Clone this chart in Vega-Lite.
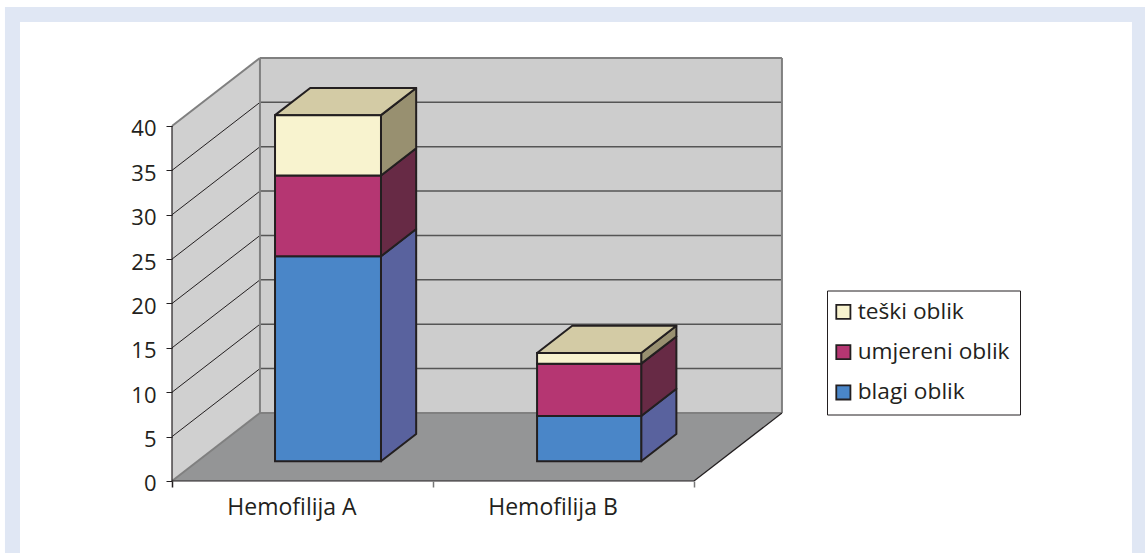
{"$schema":"https://vega.github.io/schema/vega-lite/v6.json","width":1145,"height":553,"padding":0,"autosize":{"type":"none"},"background":"#ffffff","config":{"view":{"stroke":null},"font":"Open Sans","text":{"font":"Open Sans"}},"datasets":{"segments":[{"category":"Hemofilija A","series":"blagi oblik","start":0,"end":23.1},{"category":"Hemofilija A","series":"umjereni oblik","start":23.1,"end":32.2},{"category":"Hemofilija A","series":"teški oblik","start":32.2,"end":39},{"category":"Hemofilija B","series":"blagi oblik","start":0,"end":5.1},{"category":"Hemofilija B","series":"umjereni oblik","start":5.1,"end":11},{"category":"Hemofilija B","series":"teški oblik","start":11,"end":12.2}],"frame":[{"part":"okvir","x0":-0.64,"x1":3.728,"y0":-8.113,"y1":53.41},{"part":"unutra","x0":-0.5824,"x1":3.678,"y0":-8.113,"y1":51.72}],"surfaces":[{"surface":"left","corner":0,"slot":0,"value":0,"depth":0},{"surface":"left","corner":1,"slot":0,"value":40,"depth":0},{"surface":"left","corner":2,"slot":0,"value":40,"depth":1},{"surface":"left","corner":3,"slot":0,"value":0,"depth":1},{"surface":"back","corner":0,"slot":0,"value":0,"depth":1},{"surface":"back","corner":1,"slot":0,"value":40,"depth":1},{"surface":"back","corner":2,"slot":2,"value":40,"depth":1},{"surface":"back","corner":3,"slot":2,"value":0,"depth":1},{"surface":"floor","corner":0,"slot":0,"value":0,"depth":0},{"surface":"floor","corner":1,"slot":2,"value":0,"depth":0},{"surface":"floor","corner":2,"slot":2,"value":0,"depth":1},{"surface":"floor","corner":3,"slot":0,"value":0,"depth":1}],"grid":[{"value":5},{"value":10},{"value":15},{"value":20},{"value":25},{"value":30},{"value":35}],"edges":[{"edge":"light","slot":0,"value":0,"depth":0,"slot2":0,"value2":0,"depth2":1},{"edge":"light","slot":0,"value":40,"depth":0,"slot2":0,"value2":40,"depth2":1},{"edge":"light","slot":0,"value":0,"depth":1,"slot2":0,"value2":40,"depth2":1},{"edge":"light","slot":0,"value":40,"depth":1,"slot2":2,"value2":40,"depth2":1},{"edge":"light","slot":2,"value":40,"depth":1,"slot2":2,"value2":0,"depth2":1},{"edge":"light","slot":0,"value":0,"depth":1,"slot2":2,"value2":0,"depth2":1},{"edge":"dark","slot":0,"value":0,"depth":0,"slot2":0,"value2":40,"depth2":0},{"edge":"dark","slot":0,"value":0,"depth":0,"slot2":2,"value2":0,"depth2":0},{"edge":"dark","slot":2,"value":0,"depth":0,"slot2":2,"value2":0,"depth2":1}]},"layer":[{"data":{"name":"frame"},"mark":{"type":"rect"},"encoding":{"x":{"field":"x0","type":"quantitative","scale":{"domain":[-0.659,3.728],"nice":false,"zero":false},"axis":{"orient":"bottom","offset":-72,"zindex":1,"title":null,"grid":false,"domain":false,"values":[0,0.5,1,1.5,2],"tickSize":6,"tickWidth":1.5,"tickColor":{"expr":"datum.value==0?'#231f20':'#777777'"},"tickOpacity":{"expr":"datum.value%1==0?1:0"},"labelExpr":"datum.value==0.5?'Hemofilija A':datum.value==1.5?'Hemofilija B':''","labelFont":"Open Sans","labelFontSize":23,"labelColor":"#231f20","labelOffset":-11,"labelPadding":9,"labelOverlap":false,"labelFlush":false}},"x2":{"field":"x1"},"y":{"field":"y0","type":"quantitative","scale":{"domain":[-8.113,54.197],"nice":false,"zero":false},"axis":{"orient":"left","offset":-172,"zindex":1,"title":null,"grid":false,"domain":false,"values":[0,5,10,15,20,25,30,35,40],"tickSize":6,"tickWidth":1,"tickColor":"#231f20","labelFont":"Open Sans","labelFontSize":22,"labelColor":"#231f20","labelPadding":10,"labelOffset":3}},"y2":{"field":"y1"},"color":{"field":"part","type":"nominal","scale":{"domain":["okvir","unutra"],"range":["#e0e7f4","#ffffff"]},"legend":null}}},{"data":{"name":"surfaces"},"transform":[{"calculate":"datum.slot+datum.depth*0.337","as":"sx"},{"calculate":"datum.value+datum.depth*7.662","as":"sy"}],"mark":{"type":"line","interpolate":"linear-closed","strokeWidth":0},"encoding":{"x":{"field":"sx","type":"quantitative"},"y":{"field":"sy","type":"quantitative"},"order":{"field":"corner","type":"ordinal"},"detail":{"field":"surface"},"fill":{"field":"surface","type":"nominal","scale":{"domain":["left","back","floor"],"range":["#d0d0d0","#cdcdcd","#949596"]},"legend":null}}},{"data":{"name":"grid"},"transform":[{"calculate":"0.337","as":"dx"},{"calculate":"datum.value+7.662","as":"yb"},{"calculate":"0","as":"x0"}],"mark":{"type":"rule","color":"#231f20","strokeWidth":1},"encoding":{"x":{"field":"x0","type":"quantitative"},"x2":{"field":"dx"},"y":{"field":"value","type":"quantitative"},"y2":{"field":"yb"}}},{"data":{"name":"grid"},"transform":[{"calculate":"0.337","as":"x0"},{"calculate":"2.337","as":"x1"},{"calculate":"datum.value+7.662","as":"yb"}],"mark":{"type":"rule","color":"#555555","strokeWidth":1.5},"encoding":{"x":{"field":"x0","type":"quantitative"},"x2":{"field":"x1"},"y":{"field":"yb","type":"quantitative"}}},{"data":{"name":"edges"},"transform":[{"calculate":"datum.slot+datum.depth*0.337","as":"ax"},{"calculate":"datum.value+datum.depth*7.662","as":"ay"},{"calculate":"datum.slot2+datum.depth2*0.337","as":"bx"},{"calculate":"datum.value2+datum.depth2*7.662","as":"by"}],"mark":{"type":"rule"},"encoding":{"x":{"field":"ax","type":"quantitative"},"x2":{"field":"bx"},"y":{"field":"ay","type":"quantitative"},"y2":{"field":"by"},"stroke":{"field":"edge","type":"nominal","scale":{"domain":["light","dark"],"range":["#808080","#231f20"]},"legend":null},"strokeWidth":{"field":"edge","type":"nominal","scale":{"domain":["light","dark"],"range":[2,1.2]},"legend":null}}},{"data":{"name":"segments"},"transform":[{"calculate":"datum.category=='Hemofilija A'?0.297:1.301","as":"left"},{"calculate":"datum.left+(datum.category=='Hemofilija A'?0.406:0.399)","as":"right"},{"calculate":"[0,1,2,3]","as":"corner"},{"flatten":["corner"]},{"calculate":"datum.corner==1||datum.corner==2?0.69:0.29","as":"d"},{"calculate":"datum.corner<2?datum.start:datum.end","as":"v"},{"calculate":"datum.right+datum.d*0.337","as":"sx"},{"calculate":"datum.v+datum.d*7.662","as":"sy"}],"mark":{"type":"line","interpolate":"linear-closed","stroke":"#231f20","strokeWidth":2,"strokeJoin":"round"},"encoding":{"x":{"field":"sx","type":"quantitative"},"y":{"field":"sy","type":"quantitative"},"order":{"field":"corner","type":"ordinal"},"detail":[{"field":"category"},{"field":"series"}],"fill":{"field":"series","type":"nominal","scale":{"domain":["teški oblik","umjereni oblik","blagi oblik"],"range":["#989070","#672a45","#59629e"]},"legend":null}}},{"data":{"name":"segments"},"transform":[{"filter":"datum.series=='teški oblik'"},{"calculate":"datum.category=='Hemofilija A'?0.297:1.301","as":"left"},{"calculate":"datum.left+(datum.category=='Hemofilija A'?0.406:0.399)","as":"right"},{"calculate":"[0,1,2,3]","as":"corner"},{"flatten":["corner"]},{"calculate":"datum.corner<2?0.29:0.69","as":"d"},{"calculate":"datum.corner==1||datum.corner==2?datum.right:datum.left","as":"h"},{"calculate":"datum.h+datum.d*0.337","as":"sx"},{"calculate":"datum.end+datum.d*7.662","as":"sy"}],"mark":{"type":"line","interpolate":"linear-closed","stroke":"#231f20","strokeWidth":2,"strokeJoin":"round","fill":"#d3cba5"},"encoding":{"x":{"field":"sx","type":"quantitative"},"y":{"field":"sy","type":"quantitative"},"order":{"field":"corner","type":"ordinal"},"detail":{"field":"category"}}},{"data":{"name":"segments"},"transform":[{"calculate":"(datum.category=='Hemofilija A'?0.297:1.301)+0.29*0.337","as":"fx"},{"calculate":"datum.fx+(datum.category=='Hemofilija A'?0.406:0.399)","as":"fx2"},{"calculate":"datum.start+0.29*7.662","as":"fy"},{"calculate":"datum.end+0.29*7.662","as":"fy2"}],"mark":{"type":"rect","stroke":"#231f20","strokeWidth":2},"encoding":{"x":{"field":"fx","type":"quantitative"},"x2":{"field":"fx2"},"y":{"field":"fy","type":"quantitative"},"y2":{"field":"fy2"},"fill":{"field":"series","type":"nominal","scale":{"domain":["teški oblik","umjereni oblik","blagi oblik"],"range":["#f8f3cf","#b53672","#4a86c8"]},"legend":{"orient":"none","legendX":827,"legendY":290.5,"title":null,"fillColor":"#ffffff","strokeColor":"#231f20","symbolType":"square","symbolSize":200,"symbolStrokeWidth":1.8,"symbolStrokeColor":"#231f20","symbolOffset":-5,"labelFont":"Open Sans","labelFontSize":22.7,"labelColor":"#231f20","padding":10,"rowPadding":16.3,"labelOffset":3,"symbolOpacity":1}}}}],"resolve":{"scale":{"fill":"independent"}}}
